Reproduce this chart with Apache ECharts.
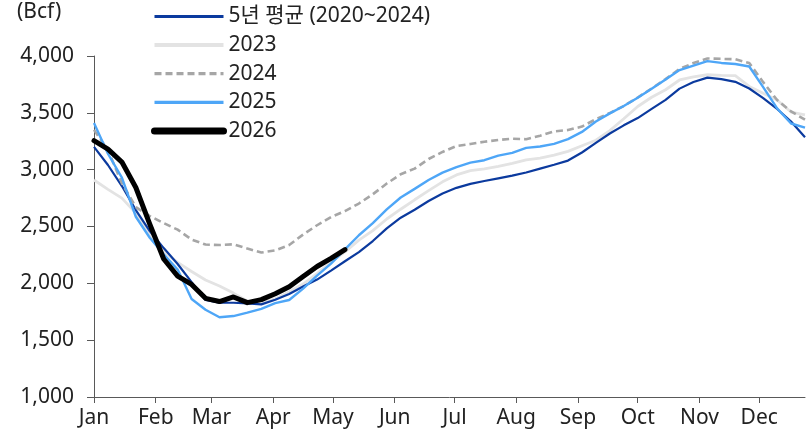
<!DOCTYPE html>
<html>
<head>
<meta charset="utf-8">
<script src="https://cdn.jsdelivr.net/npm/echarts@6/dist/echarts.min.js"></script>
<style>
html,body{margin:0;padding:0;background:#fff;}
#chart{width:810px;height:436px;}
</style>
</head>
<body>
<div id="chart"></div>
<script>
// Month tick labels and their start day-of-year
const monthLabels = ['Jan','Feb','Mar','Apr','May','Jun','Jul','Aug','Sep','Oct','Nov','Dec'];
const monthStartDay = [0,31,59,90,120,151,181,212,243,273,304,334];
const yTicks = [1000,1500,2000,2500,3000,3500,4000];

// Weekly storage (Bcf), week index 0..51
const avg5 = [3200,3041,2856,2645,2460,2310,2170,2011,1853,1830,1829,1824,1815,1855,1906,1972,2033,2112,2194,2275,2372,2483,2577,2647,2724,2790,2840,2875,2900,2924,2948,2975,3009,3043,3080,3151,3236,3318,3390,3454,3535,3614,3713,3771,3810,3797,3773,3714,3630,3534,3424,3285];
const y2023 = [2909,2827,2750,2618,2438,2279,2185,2104,2029,1976,1914,1844,1828,1864,1926,1994,2086,2186,2276,2380,2464,2566,2652,2735,2816,2893,2954,2992,3007,3029,3055,3087,3101,3128,3161,3210,3259,3343,3448,3556,3637,3703,3789,3817,3835,3830,3828,3732,3672,3613,3507,3481];
const y2024 = [3350,3173,2880,2671,2592,2530,2472,2385,2341,2337,2343,2306,2271,2290,2337,2429,2511,2583,2636,2702,2784,2878,2960,3009,3094,3156,3208,3226,3246,3261,3272,3268,3298,3337,3349,3379,3444,3498,3560,3635,3714,3797,3886,3938,3978,3975,3971,3938,3770,3613,3512,3440];
const y2025 = [3410,3140,2930,2586,2401,2255,2121,1862,1768,1701,1712,1743,1776,1826,1853,1954,2068,2173,2299,2423,2530,2650,2755,2831,2909,2974,3023,3062,3083,3124,3148,3192,3204,3227,3269,3332,3423,3495,3560,3632,3711,3793,3876,3916,3955,3939,3930,3908,3726,3539,3406,3369];
const y2026 = [3255,3180,3067,2843,2520,2214,2064,1990,1868,1840,1880,1830,1857,1909,1970,2060,2148,2220,2297];

const seriesNames = ['5년 평균 (2020~2024)','2023','2024','2025','2026'];

const toPairs = arr => arr.map((v,i)=>[i,v]);
const monthTickVals = monthStartDay.map(d => d/7);

const FONT = '"Noto Sans", "Noto Sans CJK KR", sans-serif';
const axisColor = '#595959';
const textColor = '#222';

const chart = echarts.init(document.getElementById('chart'), null, {renderer:'canvas'});
chart.setOption({
  animation:false,
  backgroundColor:'#fff',
  textStyle:{fontFamily:FONT},
  grid:{left:94,right:5,top:56,bottom:39,containLabel:false},
  graphic:[{
    type:'text', left:17, top:2,
    style:{text:'(Bcf)', font:'21px '+FONT, fill:textColor}
  }],
  legend:{
    orient:'vertical', left:146, top:1,
    itemWidth:69, itemHeight:14, itemGap:7.6, itemTextGap:7,
    itemStyle:{opacity:0},
    data:[
      {name:seriesNames[0], lineStyle:{width:3.2}},
      {name:seriesNames[1], lineStyle:{width:4}},
      {name:seriesNames[2], lineStyle:{width:3.2}},
      {name:seriesNames[3], lineStyle:{width:3.2}},
      {name:seriesNames[4], lineStyle:{width:7, cap:'round'}}
    ],
    textStyle:{fontFamily:FONT, fontSize:21, color:textColor, lineHeight:20}
  },
  xAxis:{
    type:'value', min:0, max:51,
    axisLine:{show:true, lineStyle:{color:axisColor, width:1}},
    axisTick:{show:true, length:6, customValues:monthTickVals, lineStyle:{color:axisColor}},
    axisLabel:{
      customValues:monthTickVals, margin:11,
      fontFamily:FONT, fontSize:21, color:textColor,
      formatter:(v)=>{ const i = monthTickVals.findIndex(m=>Math.abs(m-v)<1e-6); return i>=0?monthLabels[i]:''; }
    },
    splitLine:{show:false}
  },
  yAxis:{
    type:'value', min:1000, max:4000, interval:500,
    axisLine:{show:true, lineStyle:{color:axisColor, width:1}},
    axisTick:{show:true, length:7, lineStyle:{color:axisColor}},
    axisLabel:{
      margin:20, fontFamily:FONT, fontSize:21, color:textColor,
      formatter:v=>v.toLocaleString('en-US')
    },
    splitLine:{show:false}
  },
  series:[
    {name:seriesNames[0], type:'line', data:toPairs(avg5), symbol:'none', z:2,
      lineStyle:{color:'#0B3A9E', width:2.2}, itemStyle:{color:'#0B3A9E'}},
    {name:seriesNames[1], type:'line', data:toPairs(y2023), symbol:'none', z:1,
      lineStyle:{color:'#E3E3E3', width:2.8}, itemStyle:{color:'#E3E3E3'}},
    {name:seriesNames[2], type:'line', data:toPairs(y2024), symbol:'none', z:3,
      lineStyle:{color:'#A6A6A6', width:2.6, type:[7,4]}, itemStyle:{color:'#A6A6A6'}},
    {name:seriesNames[3], type:'line', data:toPairs(y2025), symbol:'none', z:4,
      lineStyle:{color:'#4EA6F7', width:2.4}, itemStyle:{color:'#4EA6F7'}},
    {name:seriesNames[4], type:'line', data:toPairs(y2026), symbol:'none', z:5,
      lineStyle:{color:'#000', width:5, cap:'round', join:'round'}, itemStyle:{color:'#000'}}
  ]
});
</script>
</body>
</html>
